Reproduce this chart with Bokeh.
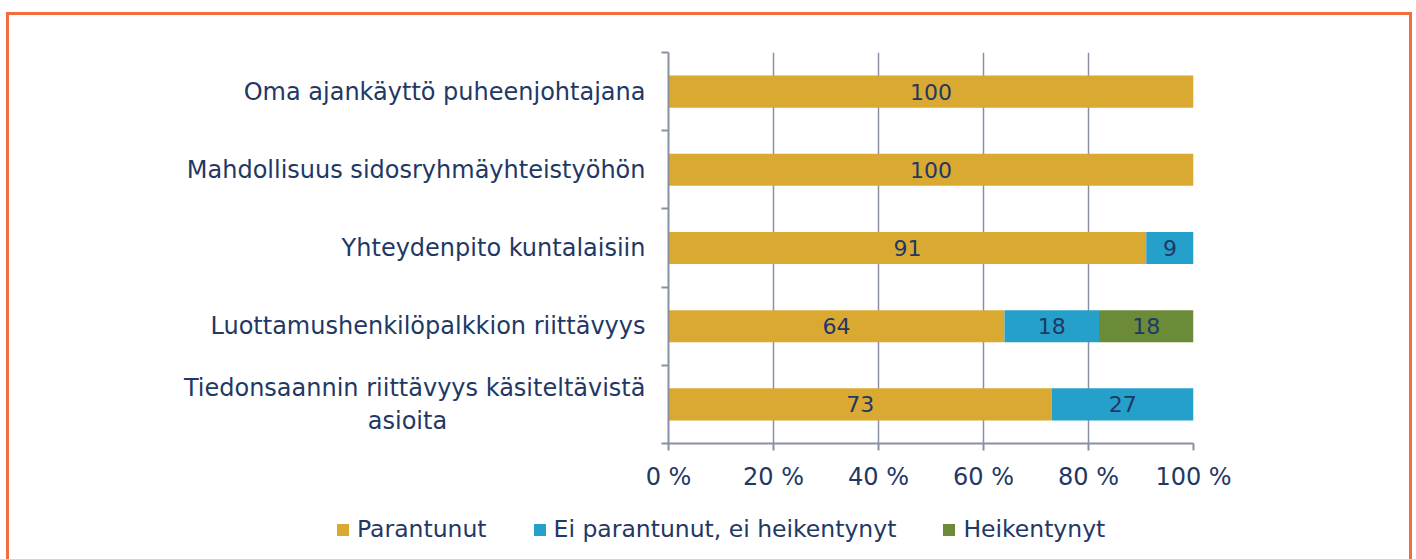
from bokeh.plotting import figure
from bokeh.layouts import column
from bokeh.models import ColumnDataSource, FixedTicker, Legend, LegendItem
from bokeh.core.properties import value
from bokeh.embed import file_html
from bokeh.resources import INLINE

NBSP = "\u00a0"
categories = [
    "Oma ajankäyttö puheenjohtajana",
    "Mahdollisuus sidosryhmäyhteistyöhön",
    "Yhteydenpito kuntalaisiin",
    "Luottamushenkilöpalkkion riittävyys",
    "Tiedonsaannin riittävyys käsiteltävistä\nasioita",
]
parantunut = [100, 100, 91, 64, 73]
ei_muutosta = [0, 0, 9, 18, 27]
heikentynyt = [0, 0, 0, 18, 0]
series_names = ["Parantunut", "Ei parantunut, ei heikentynyt", "Heikentynyt"]
colors = ["#DAA932", "#24A0CB", "#6B8B38"]
x_ticks = [0, 20, 40, 60, 80, 100]
x_tick_labels = ["0 %", "20 %", "40 %", "60 %", "80 %", "100 %"]

TEXT = "#1F3864"
GRID = "#8A90A4"
FONT = "DejaVu Sans"
BORDER = "3px solid #F26D3D"

n = len(categories)
ypos = [n - i - 0.5 for i in range(n)]
src = ColumnDataSource(dict(y=ypos, p=parantunut, e=ei_muutosta, h=heikentynyt))

# centre the second line of a wrapped label (axis labels are right-aligned)
shown_labels = []
for c in categories:
    lines = c.split("\n")
    if len(lines) > 1:
        pad = int((len(lines[0]) - len(lines[1])) * 0.5 * 1.63)
        c = lines[0] + "\n" + lines[1] + NBSP * pad
    shown_labels.append(c)

p = figure(width=1400, height=488, x_range=(0, 100), y_range=(0, n),
           output_backend="svg", toolbar_location=None,
           min_border_left=659, min_border_right=216,
           min_border_top=37, min_border_bottom=60)
p.outline_line_color = None
p.frame_align = False

rs = p.hbar_stack(["p", "e", "h"], y="y", height=0.41, color=colors, line_color=None,
                  source=src)

# value labels
lx, ly, lt = [], [], []
for i in range(n):
    left = 0
    for v in (parantunut[i], ei_muutosta[i], heikentynyt[i]):
        if v > 0:
            lx.append(left + v / 2)
            ly.append(ypos[i])
            lt.append(str(v))
        left += v
lsrc = ColumnDataSource(dict(x=lx, y=ly, t=lt))
p.text(x="x", y="y", text="t", source=lsrc, text_align="center", text_baseline="middle",
       text_color=TEXT, text_font=value(FONT), text_font_size="22px")

# x axis
p.xaxis.ticker = FixedTicker(ticks=x_ticks)
p.xaxis.major_label_overrides = {t: l for t, l in zip(x_ticks, x_tick_labels)}
p.xaxis.axis_line_color = GRID
p.xaxis.axis_line_width = 2
p.xaxis.major_tick_line_color = GRID
p.xaxis.major_tick_line_width = 2
p.xaxis.major_tick_out = 7
p.xaxis.major_tick_in = 0
p.xaxis.minor_tick_line_color = None
p.xaxis.major_label_text_color = TEXT
p.xaxis.major_label_text_font = FONT
p.xaxis.major_label_text_font_size = "24px"
p.xaxis.major_label_standoff = 12

# y axis
p.yaxis.ticker = FixedTicker(ticks=ypos, minor_ticks=list(range(n + 1)))
p.yaxis.major_label_overrides = {y: c for y, c in zip(ypos, shown_labels)}
p.yaxis.axis_line_color = GRID
p.yaxis.axis_line_width = 2
p.yaxis.major_tick_line_color = None
p.yaxis.major_tick_out = 0
p.yaxis.major_tick_in = 0
p.yaxis.minor_tick_line_color = GRID
p.yaxis.minor_tick_line_width = 2
p.yaxis.minor_tick_out = 7
p.yaxis.minor_tick_in = 0
p.yaxis.major_label_text_color = TEXT
p.yaxis.major_label_text_font = FONT
p.yaxis.major_label_text_font_size = "24px"
p.yaxis.major_label_standoff = 16

p.xgrid.grid_line_color = GRID
p.xgrid.grid_line_width = 1.5
p.xgrid.ticker = FixedTicker(ticks=x_ticks)
p.ygrid.grid_line_color = None

# legend strip underneath (its renderers are hidden, only the swatches show)
p2 = figure(width=1400, height=56, x_range=(0, 100), y_range=(0, n),
            output_backend="svg", toolbar_location=None,
            min_border_left=0, min_border_right=0, min_border_top=0, min_border_bottom=0)
p2.frame_align = False
p2.outline_line_color = None
p2.xaxis.visible = False
p2.yaxis.visible = False
p2.grid.visible = False
rs2 = p2.hbar_stack(["p", "e", "h"], y="y", height=0.41, color=colors, line_color=None,
                    source=src)
for r in rs2:
    r.visible = False
lg = Legend(items=[LegendItem(label=nm, renderers=[r]) for nm, r in zip(series_names, rs2)])
lg.orientation = "horizontal"
lg.location = (326, 16)
lg.padding = 0
lg.margin = 0
lg.spacing = 45
lg.glyph_width = 15
lg.glyph_height = 15
lg.label_standoff = 7
lg.label_height = 24
lg.border_line_color = None
lg.background_fill_alpha = 0
lg.inactive_fill_alpha = 0
lg.label_text_color = TEXT
lg.label_text_font = FONT
lg.label_text_font_size = "23.5px"
p2.add_layout(lg, "center")

layout = column(p, p2, spacing=0,
                styles={"margin-left": "6px", "margin-top": "12px",
                        "border-top": BORDER, "border-left": BORDER, "border-right": BORDER})

open("out.html", "w").write(file_html(layout, INLINE))
